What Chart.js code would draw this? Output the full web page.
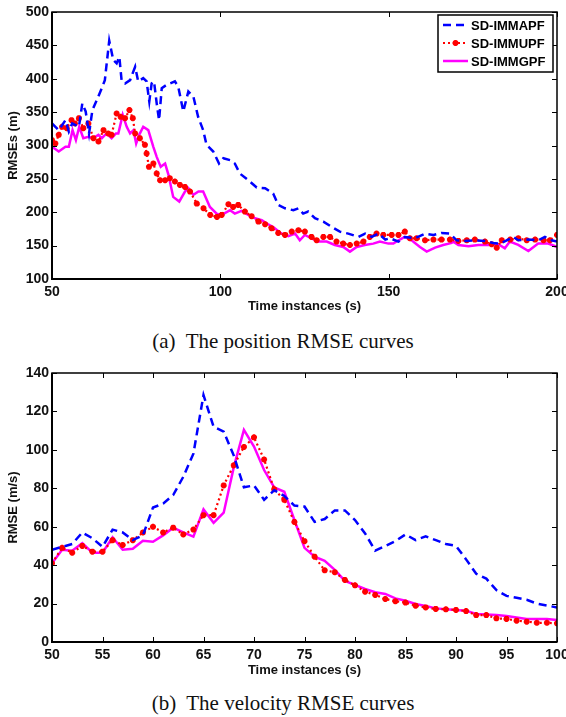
<!DOCTYPE html>
<html>
<head>
<meta charset="utf-8">
<script src="https://cdn.jsdelivr.net/npm/chart.js@4.4.1/dist/chart.umd.min.js"></script>
<style>
  body { margin: 0; background: #fff; width: 566px; height: 717px; position: relative; overflow: hidden; }
  canvas { position: absolute; left: 0; }
  .cap { position: absolute; left: 0; width: 566px; text-align: center; line-height: 24px;
         font: 21px "Liberation Serif", "Times New Roman", serif; color: #111; }
</style>
</head>
<body>
<canvas id="posChart" width="566" height="320" style="top:0"></canvas>
<div class="cap" style="top:329px">(a)&nbsp; The position RMSE curves</div>
<canvas id="velChart" width="566" height="324" style="top:360px"></canvas>
<div class="cap" style="top:691px">(b)&nbsp; The velocity RMSE curves</div>

<script>
// ---- series names ----
const seriesNames = ["SD-IMMAPF", "SD-IMMUPF", "SD-IMMGPF"];

// ---- (a) position RMSE ----
const posXTicks = [50, 100, 150, 200];
const posYTicks = [100, 150, 200, 250, 300, 350, 400, 450, 500];

const posApfT = [50,52,54,55,56,58,59,60,61,62,63.3,64.8,65.7,67,68.2,69.2,70,70.7,71.7,73.2,74.7,75.6,77.1,78.1,78.9,79.6,80.3,81.1,81.8,82.6,84.1,86.5,87.5,89,90.5,92,93.4,94.9,95.9,97.9,99.6,100.9,102.9,104.3,105.8,108.3,110.8,113.3,115.7,117.2,119.2,121.7,123.2,124.6,126.1,128.1,130.6,133.1,135.5,138,141,143,145,147,149,150.4,152.9,154.8,157.8,160.8,163.3,165.7,168.2,170.2,172.7,175.6,178.6,181.1,183.1,185.5,187,188.5,191.5,194.4,196.4,198.4,200];
const posApfV = [333,323,338,321,333,328,363,351,318,353,368,386,398,457,428,423,433,396,393,398,418,396,401,396,366,393,396,363,338,386,391,396,388,351,381,373,343,323,301,291,273,281,278,273,258,248,237,236,228,211,206,203,206,198,201,191,186,178,171,168,163,168,163,168,159,161,156,163,161,168,166,169,168,158,157,158,157,154,153,159,163,158,159,158,163,158,156];

const posUpfT = [50,51,52,53,54.4,55.8,56.8,58,59.3,60.8,62.3,63.8,65.3,66.7,67.7,69.2,70.4,71.7,73,74,74.7,76.1,77.6,78.1,78.8,80.1,81.1,82.1,83.6,85,86.5,88,89.5,91,93,95,97,99,100.4,102.4,103.8,105.3,107.3,109.3,111.3,113.3,115.2,117.2,119.2,121.2,123.2,125.1,127.1,128.6,130.6,132.6,134.5,136.5,138.5,140.5,142.5,144.4,146.4,148.4,150.9,152.9,154.8,156.3,158.3,160.8,163.3,165.7,168.2,170.7,173.2,175.6,178.6,180.6,182.1,183.6,186.1,188.5,191,193.5,196,197.9,200];
const posUpfV = [308,303,316,328,326,338,333,341,326,333,311,306,323,318,316,348,343,341,353,341,318,311,301,288,268,273,258,248,248,251,246,241,238,231,213,206,196,193,196,212,208,211,201,194,186,182,176,169,166,171,173,171,163,158,163,163,156,153,151,153,156,163,168,166,166,166,171,161,161,158,159,159,159,157,158,159,156,152,147,158,159,161,158,159,158,158,166];

const posGpfT = [50,52,54,55,56.1,57.1,58.1,59.3,60.8,62.3,63.8,64.8,66.2,67.7,69,69.7,71,72.2,73.2,74.2,75,75.9,77.1,78.6,80.1,81.1,82.3,83.6,84.6,86,87.8,89.5,90.5,92,93.5,94.9,96.9,98.9,100.4,102.9,104.3,106.3,108.3,110.3,112.3,114.2,115.7,118.2,120.2,122.2,123.6,125.1,127.1,129.1,131.6,134,136.5,138.5,140.5,142.9,145.4,147.4,149.9,151.4,152.9,154.8,156.8,159.3,161.3,163.8,166.2,168.7,169.2,170.7,173.7,176.6,179.6,182.6,184.5,186,188.5,191.5,194.4,197.4,200];
const posGpfV = [298,291,298,298,323,308,328,311,313,311,316,311,318,311,318,318,346,328,318,323,303,316,328,323,298,283,268,273,256,223,216,231,236,226,231,231,208,198,196,203,198,202,196,191,188,182,178,168,164,168,158,166,161,156,156,151,148,141,148,151,153,156,153,153,158,163,158,148,141,147,151,154,156,151,149,151,151,152,146,156,151,142,153,153,148];

// ---- (b) velocity RMSE ----
const velXTicks = [50, 55, 60, 65, 70, 75, 80, 85, 90, 95, 100];
const velYTicks = [0, 20, 40, 60, 80, 100, 120, 140];
const velTime = [50,51,52,53,54,55,56,57,58,59,60,61,62,63,64,65,66,67,68,69,70,71,72,73,74,75,76,77,78,79,80,81,82,83,84,85,86,87,88,89,90,91,92,93,94,95,96,97,98,99,100];
const velApf = [48,49.5,51,57,54,49.5,58.5,57,53,55.5,70,72,76.5,86,98,128.5,112,109.5,97,80.5,81.5,74,79,76,71,70.5,62.5,64,68.5,68.5,63.5,56.5,47.5,50,52.5,56,53,55,53,51,50,43,35.5,33,27,24,23,22,20,19,18];
const velUpf = [41,49,46.5,50,47,47,53,50.5,53,57,60,57,59.5,56,58.5,66,66,81.5,92,101.5,106.5,95,79.5,74,62.5,52.5,44.4,37.3,36.3,32.3,29.5,26.2,24.5,22.4,21.2,20.5,18.9,18,17.2,17,16.7,16.1,14,14,12.3,12,11.1,10.6,10,10,9.7];
const velGpf = [41,48,47.5,51.5,46.5,46.5,54.5,48,48.5,52.7,52.2,55.5,59.5,57,54.8,69,62,67.3,91,110.4,101.7,89.5,80.5,78.2,63.5,49,44.4,42.3,37.5,31.8,29.7,27.6,25.9,25,22.7,21.5,19.8,18.7,17.5,17,16.7,16.3,14.6,14.3,14,13.5,12.8,12,12,12,11.5];

const FONT = '"Liberation Sans", Arial, Helvetica, sans-serif';
const pts = (xs, ys) => xs.map((x, i) => ({ x: x, y: ys[i] }));

function makeDatasets(apf, upf, gpf) {
    return [
        { label: seriesNames[0], data: apf, borderColor: "#0000ff", borderWidth: 2.5,
          borderDash: [8, 5], pointRadius: 0, tension: 0 },
        { label: seriesNames[1], data: upf, borderColor: "#ff0000", borderWidth: 2.2,
          borderDash: [2, 3], pointRadius: 3, pointStyle: "star", pointBorderColor: "#ff0000",
          pointBackgroundColor: "#ff0000", pointBorderWidth: 2, tension: 0 },
        { label: seriesNames[2], data: gpf, borderColor: "#ff00ff", borderWidth: 2.5,
          pointRadius: 0, tension: 0 }
    ];
}

// Matlab style box with inward ticks on all four sides
const framePlugin = {
    id: "frame",
    afterDatasetsDraw(chart) {
        const { ctx, chartArea: a } = chart;
        const xs = chart.scales.x, ys = chart.scales.y;
        ctx.save();
        ctx.strokeStyle = "#000";
        ctx.lineWidth = 1;
        ctx.beginPath();
        xs.ticks.forEach(t => {
            const px = Math.round(xs.getPixelForValue(t.value)) + 0.5;
            ctx.moveTo(px, a.bottom); ctx.lineTo(px, a.bottom - 5);
            ctx.moveTo(px, a.top); ctx.lineTo(px, a.top + 5);
        });
        ys.ticks.forEach(t => {
            const py = Math.round(ys.getPixelForValue(t.value)) + 0.5;
            ctx.moveTo(a.left, py); ctx.lineTo(a.left + 5, py);
            ctx.moveTo(a.right, py); ctx.lineTo(a.right - 5, py);
        });
        ctx.stroke();
        ctx.lineWidth = 1.5;
        ctx.strokeRect(a.left, a.top, a.width, a.height);
        ctx.lineWidth = 2;
        ctx.beginPath();
        ctx.moveTo(a.left, a.top); ctx.lineTo(a.left, a.bottom); ctx.lineTo(a.right, a.bottom);
        ctx.stroke();
        ctx.restore();
    }
};

// legend box in the upper right corner of the plot
const boxLegend = {
    id: "boxLegend",
    afterDraw(chart) {
        const { ctx, chartArea: a } = chart;
        const w = 115, h = 57, x0 = a.right - w - 4, y0 = a.top + 3;
        ctx.save();
        ctx.fillStyle = "#fff";
        ctx.fillRect(x0, y0, w, h);
        ctx.strokeStyle = "#000";
        ctx.lineWidth = 1.5;
        ctx.strokeRect(x0, y0, w, h);
        ctx.font = "bold 13px " + FONT;
        ctx.textBaseline = "middle";
        chart.data.datasets.forEach((ds, i) => {
            const yy = y0 + 10 + i * 18;
            ctx.strokeStyle = ds.borderColor;
            ctx.lineWidth = ds.borderWidth;
            ctx.setLineDash(ds.borderDash || []);
            ctx.beginPath();
            ctx.moveTo(x0 + 5, yy); ctx.lineTo(x0 + 30, yy);
            ctx.stroke();
            ctx.setLineDash([]);
            if (ds.pointRadius > 0) {
                ctx.fillStyle = ds.pointBackgroundColor;
                ctx.strokeStyle = ds.pointBorderColor;
                ctx.lineWidth = ds.pointBorderWidth;
                Chart.helpers.drawPoint(ctx, { pointStyle: ds.pointStyle, radius: ds.pointRadius,
                    borderWidth: ds.pointBorderWidth, rotation: 0 }, x0 + 17.5, yy);
            }
            ctx.fillStyle = "#000";
            ctx.fillText(ds.label, x0 + 33, yy + 1);
        });
        ctx.restore();
    }
};

function makeOptions(cfg) {
    return {
        responsive: false,
        animation: false,
        devicePixelRatio: 1,
        layout: { padding: { top: cfg.padTop, right: 9, left: 0, bottom: 0 } },
        plugins: { legend: { display: false }, tooltip: { enabled: false } },
        scales: {
            x: {
                type: "linear",
                min: cfg.xTicks[0], max: cfg.xTicks[cfg.xTicks.length - 1],
                afterBuildTicks: s => { s.ticks = cfg.xTicks.map(v => ({ value: v })); },
                afterFit: s => { s.height = cfg.xHeight; s.paddingLeft = 0; s.paddingRight = 0; },
                grid: { drawOnChartArea: false, drawTicks: false },
                border: { display: false },
                ticks: { color: "#111", padding: 5, maxRotation: 0, autoSkip: false,
                         font: { family: FONT, size: 14, weight: "bold" } },
                title: { display: true, text: "Time instances (s)", color: "#111",
                         padding: { top: 0, bottom: 6 },
                         font: { family: FONT, size: 13, weight: "bold" } }
            },
            y: {
                min: cfg.yTicks[0], max: cfg.yTicks[cfg.yTicks.length - 1],
                afterBuildTicks: s => { s.ticks = cfg.yTicks.map(v => ({ value: v })); },
                afterFit: s => { s.width = 52; s.paddingTop = 0; s.paddingBottom = 0; },
                grid: { drawOnChartArea: false, drawTicks: false },
                border: { display: false },
                ticks: { color: "#111", padding: 3, autoSkip: false,
                         font: { family: FONT, size: 14, weight: "bold" } },
                title: { display: true, text: cfg.yTitle, color: "#111",
                         padding: { top: 6, bottom: 0 },
                         font: { family: FONT, size: 13, weight: "bold" } }
            }
        }
    };
}

new Chart(document.getElementById("posChart"), {
    type: "line",
    data: { datasets: makeDatasets(pts(posApfT, posApfV), pts(posUpfT, posUpfV), pts(posGpfT, posGpfV)) },
    options: makeOptions({ xTicks: posXTicks, yTicks: posYTicks, yTitle: "RMSEs (m)", padTop: 12, xHeight: 41 }),
    plugins: [framePlugin, boxLegend]
});

new Chart(document.getElementById("velChart"), {
    type: "line",
    data: { datasets: makeDatasets(pts(velTime, velApf), pts(velTime, velUpf), pts(velTime, velGpf)) },
    options: makeOptions({ xTicks: velXTicks, yTicks: velYTicks, yTitle: "RMSE (m/s)", padTop: 13, xHeight: 42 }),
    plugins: [framePlugin]
});
</script>
</body>
</html>
